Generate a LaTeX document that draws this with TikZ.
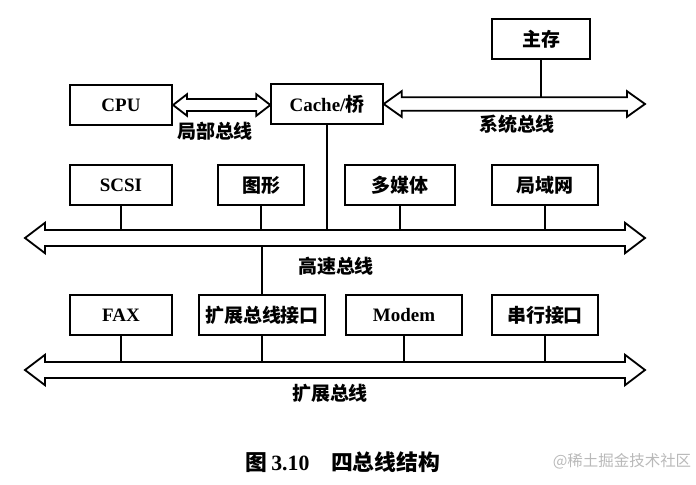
\documentclass[tikz,border=0pt]{standalone}
\usepackage{fontspec}
\setmainfont{Liberation Serif}
\newfontfamily\cjk{Noto Sans CJK SC}
\usetikzlibrary{calc}
\tikzset{
  unit/.style={draw,line width=1.5pt,minimum height=1cm,inner sep=1pt,font=\fontsize{13.5}{16}\selectfont\bfseries},
  tie/.style={line width=1pt},
  bus/.style={line width=1.3pt,line join=miter,fill=white},
  lbl/.style={font=\fontsize{13.5}{16}\selectfont\bfseries\cjk}
}
\newcommand{\busarrow}[5]{\draw[bus] let \p1=#1, \p2=#2 in (\x1,\y1) -- (\x1+#5,\y1+#4) -- (\x1+#5,\y1+#3) -- (\x2-#5,\y1+#3) -- (\x2-#5,\y1+#4) -- (\x2,\y1) -- (\x2-#5,\y1-#4) -- (\x2-#5,\y1-#3) -- (\x1+#5,\y1-#3) -- (\x1+#5,\y1-#4) -- cycle;}

\begin{document}
\begin{tikzpicture}[x=0.025cm,y=-0.025cm]
\useasboundingbox (0,0) rectangle (696,485);
\node[unit,minimum width=2.45cm] (mem) at (541,39) {\cjk 主存};
\node[unit,minimum width=2.55cm] (cpu) at (121,105) {CPU};
\node[unit,minimum width=2.78cm] (cache) at (327,104) {Cache/{\cjk 桥}};
\foreach \n/\x/\w/\txt in {scsi/121/2.55/SCSI,gfx/261/2.13/{\cjk 图形},media/400/2.75/{\cjk 多媒体},lan/545/2.63/{\cjk 局域网}}
  \node[unit,minimum width=\w cm] (\n) at (\x,185) {\txt};
\foreach \n/\x/\w/\txt in {fax/121/2.55/FAX,ext/262/3.13/{\cjk 扩展总线接口},modem/404/2.88/Modem,com/545/2.63/{\cjk 串行接口}}
  \node[unit,minimum width=\w cm] (\n) at (\x,315) {\txt};
\coordinate (sysR) at (645,100);
\coordinate (hsL) at (25,238);
\coordinate (hsR) at (645,238);
\coordinate (exL) at (25,370);
\coordinate (exR) at (645,370);
\draw[tie] (mem.south) -- (mem.south |- sysR);
\draw[tie] (cache.south) -- (cache.south |- hsL);
\foreach \n in {scsi,gfx,media,lan} \draw[tie] (\n.south) -- (\n.south |- hsL);
\draw[tie] (ext.north) -- (ext.north |- hsL);
\foreach \n in {fax,ext,modem,com} \draw[tie] (\n.south) -- (\n.south |- exL);
\busarrow{(cpu.east)}{(cache.west)}{0.15cm}{0.27cm}{0.35cm}
\busarrow{(cache.east)}{(sysR)}{0.17cm}{0.32cm}{0.45cm}
\busarrow{(hsL)}{(hsR)}{0.2cm}{0.38cm}{0.5cm}
\busarrow{(exL)}{(exR)}{0.2cm}{0.38cm}{0.5cm}
\node[lbl] (lbus) at (215,131) {局部总线};
\node[lbl] (sbus) at (517,124) {系统总线};
\node[lbl] (hbus) at (336,266) {高速总线};
\node[lbl] (xbus) at (330,393) {扩展总线};
\node[lbl,font=\fontsize{15.5}{18}\selectfont\bfseries\cjk] (cap) at (343,462) {图\,{\rmfamily 3.10}\quad 四总线结构};
\node[font=\fontsize{11}{13}\selectfont\cjk,text=gray!55] (wm) at (622,461) {@稀土掘金技术社区};
\end{tikzpicture}
\end{document}
